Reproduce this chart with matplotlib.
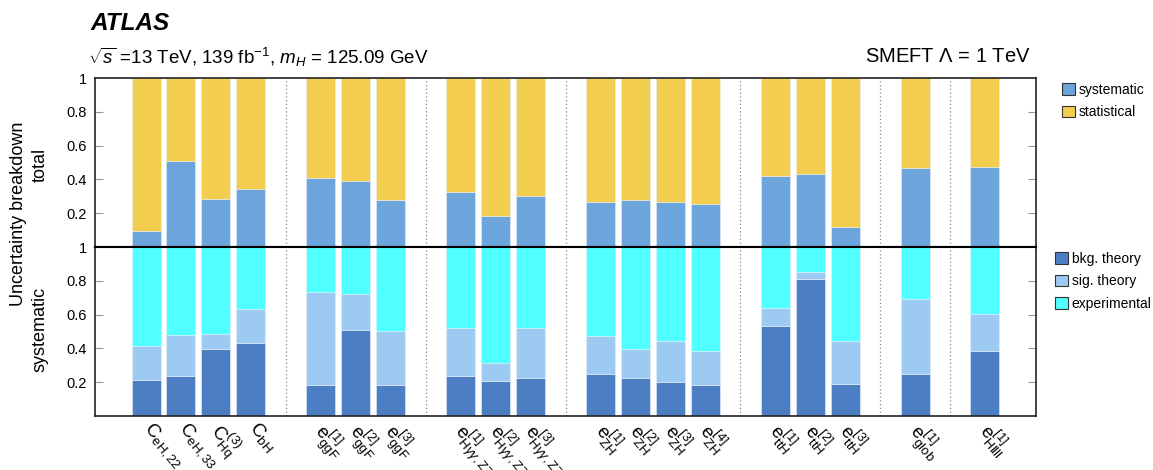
import matplotlib
matplotlib.use("Agg")
import matplotlib.pyplot as plt
import matplotlib.transforms as mtransforms
from matplotlib.patches import Patch
import numpy as np

plt.rcParams['font.family'] = ['Liberation Sans', 'DejaVu Sans']
plt.rcParams['mathtext.fontset'] = 'custom'
plt.rcParams['mathtext.rm'] = 'Liberation Sans'
plt.rcParams['mathtext.it'] = 'Liberation Sans:italic'
plt.rcParams['mathtext.bf'] = 'Liberation Sans:bold'

# ---------------- data ----------------
labels = [r"$\mathrm{C}_{\mathrm{eH,22}}$", r"$\mathrm{C}_{\mathrm{eH,33}}$",
          r"$\mathrm{C}_{\mathrm{Hq}}^{(3)}$", r"$\mathrm{C}_{\mathrm{bH}}$",
          r"$\mathrm{e}^{[1]}_{\mathrm{ggF}}$", r"$\mathrm{e}^{[2]}_{\mathrm{ggF}}$", r"$\mathrm{e}^{[3]}_{\mathrm{ggF}}$",
          r"$\mathrm{e}^{[1]}_{\mathrm{H}\gamma\gamma,\mathrm{ZZ}}$", r"$\mathrm{e}^{[2]}_{\mathrm{H}\gamma\gamma,\mathrm{ZZ}}$",
          r"$\mathrm{e}^{[3]}_{\mathrm{H}\gamma\gamma,\mathrm{ZZ}}$",
          r"$\mathrm{e}^{[1]}_{\mathrm{ZH}}$", r"$\mathrm{e}^{[2]}_{\mathrm{ZH}}$", r"$\mathrm{e}^{[3]}_{\mathrm{ZH}}$",
          r"$\mathrm{e}^{[4]}_{\mathrm{ZH}}$",
          r"$\mathrm{e}^{[1]}_{\mathrm{ttH}}$", r"$\mathrm{e}^{[2]}_{\mathrm{ttH}}$", r"$\mathrm{e}^{[3]}_{\mathrm{ttH}}$",
          r"$\mathrm{e}^{[1]}_{\mathrm{glob}}$", r"$\mathrm{e}^{[1]}_{\mathrm{Hllll}}$"]
group_sizes = [4, 3, 3, 4, 3, 1, 1]

# total breakdown: systematic fraction (statistical = remainder)
systematic = [0.095, 0.509, 0.285, 0.346, 0.410, 0.391, 0.279, 0.326, 0.182, 0.304,
              0.269, 0.277, 0.265, 0.253, 0.422, 0.434, 0.117, 0.470, 0.474]
# systematic breakdown
bkg_theory = [0.214, 0.237, 0.397, 0.434, 0.184, 0.507, 0.184, 0.239, 0.210, 0.224,
              0.251, 0.224, 0.202, 0.186, 0.535, 0.810, 0.188, 0.247, 0.387]
sig_theory = [0.201, 0.243, 0.087, 0.197, 0.550, 0.213, 0.319, 0.280, 0.104, 0.299,
              0.223, 0.175, 0.244, 0.197, 0.104, 0.042, 0.256, 0.447, 0.217]

# ---------------- colours ----------------
c_stat = '#F2CD50'
c_syst = '#6CA4DC'
c_bkg = '#4C7EC4'
c_sig = '#9DCAF2'
c_exp = '#50FFFF'

# ---------------- positions ----------------
pos = []
seps = []
x = 0
for gi, n in enumerate(group_sizes):
    for k in range(n):
        pos.append(x)
        x += 1
    if gi < len(group_sizes) - 1:
        seps.append(x)
        x += 1
pos = np.array(pos, dtype=float)

systematic = np.array(systematic)
statistical = 1 - systematic
bkg_theory = np.array(bkg_theory)
sig_theory = np.array(sig_theory)
experimental = 1 - bkg_theory - sig_theory

W, H = 11.53, 4.70
fig = plt.figure(figsize=(W, H), dpi=100)
L, R = 95 / 1153, 1036 / 1153
ytop, ymid, ybot = 1 - 78 / 470, 1 - 247 / 470, 1 - 416 / 470
ax1 = fig.add_axes([L, ymid, R - L, ytop - ymid])
ax2 = fig.add_axes([L, ybot, R - L, ymid - ybot])

bw = 0.83
ec = dict(edgecolor='#e8eef6', linewidth=0.4)
ax1.bar(pos, systematic, bw, color=c_syst, **ec)
ax1.bar(pos, statistical, bw, bottom=systematic, color=c_stat, **ec)
ax2.bar(pos, bkg_theory, bw, color=c_bkg, **ec)
ax2.bar(pos, sig_theory, bw, bottom=bkg_theory, color=c_sig, **ec)
ax2.bar(pos, experimental, bw, bottom=bkg_theory + sig_theory, color=c_exp, **ec)

xl = (pos[0] - 1.46, pos[-1] + 1.46)
for ax in (ax1, ax2):
    ax.set_xlim(*xl)
    ax.set_ylim(0, 1)
    for s in seps:
        ax.axvline(s, color='#888888', linestyle=(0, (1, 2)), linewidth=0.9, zorder=0)
    ax.tick_params(axis='y', direction='in', right=True, left=True, length=6,
                   color='#999999', labelsize=10.5, pad=6)
    ax.tick_params(axis='x', length=0)
    for sp in ax.spines.values():
        sp.set_linewidth(1.2)
        sp.set_color('#222222')

ax1.set_yticks([0.2, 0.4, 0.6, 0.8, 1.0])
ax1.set_yticklabels(['0.2', '0.4', '0.6', '0.8', '1'])
ax2.set_yticks([0.2, 0.4, 0.6, 0.8, 1.0])
ax2.set_yticklabels(['0.2', '0.4', '0.6', '0.8', '1'])
for ax in (ax1, ax2):
    ax.yaxis.get_major_ticks()[-1].tick1line.set_visible(False)
    ax.yaxis.get_major_ticks()[-1].tick2line.set_visible(False)
ax1.set_xticks([])
ax1.spines['bottom'].set_color('black')
ax1.spines['bottom'].set_linewidth(1.5)
ax2.spines['top'].set_color('black')
ax2.spines['top'].set_linewidth(1.5)

ax2.set_xticks(pos)
ax2.set_xticklabels(labels, rotation=-50, ha='left', va='top',
                    rotation_mode='anchor', fontsize=13.5)
ax2.tick_params(axis='x', pad=4)
offset = mtransforms.ScaledTranslation(0.09, 0.03, fig.dpi_scale_trans)
for lab in ax2.get_xticklabels():
    lab.set_transform(lab.get_transform() + offset)

# titles
fig.text(90 / 1153, 1 - 23 / 470, 'ATLAS', fontsize=17.5, fontweight='bold',
         fontstyle='italic', va='center', ha='left')
fig.text(88 / 1153, 1 - 57 / 470,
         r'$\sqrt{s}$ =13 TeV, 139 fb$^{-1}$, $m_H$ = 125.09 GeV',
         fontsize=13.5, va='center', ha='left')
fig.text(1031 / 1153, 1 - 57 / 470, r'SMEFT $\Lambda$ = 1 TeV',
         fontsize=14.5, va='center', ha='right')

# y labels
fig.text(19 / 1153, 1 - 214 / 470, 'Uncertainty breakdown', rotation=90,
         fontsize=13, va='center', ha='center')
fig.text(40 / 1153, 1 - 148 / 470, 'total', rotation=90,
         fontsize=13, va='top', ha='center')
fig.text(40 / 1153, 1 - 372 / 470, 'systematic', rotation=90,
         fontsize=13, va='bottom', ha='center')

# legends
leg_kw = dict(frameon=False, fontsize=10, handlelength=0.9, handleheight=0.9,
              handletextpad=0.3, labelspacing=0.6, borderaxespad=0, borderpad=0)
h1 = [Patch(facecolor=c_syst, edgecolor='#333333', linewidth=0.8, label='systematic'),
      Patch(facecolor=c_stat, edgecolor='#333333', linewidth=0.8, label='statistical')]
fig.legend(handles=h1, loc='upper left', bbox_to_anchor=(1062 / 1153, 1 - 83 / 470), **leg_kw)
h2 = [Patch(facecolor=c_bkg, edgecolor='#333333', linewidth=0.8, label='bkg. theory'),
      Patch(facecolor=c_sig, edgecolor='#333333', linewidth=0.8, label='sig. theory'),
      Patch(facecolor=c_exp, edgecolor='#333333', linewidth=0.8, label='experimental')]
fig.legend(handles=h2, loc='upper left', bbox_to_anchor=(1055 / 1153, 1 - 252 / 470), **leg_kw)

fig.savefig('out.png', dpi=100)
